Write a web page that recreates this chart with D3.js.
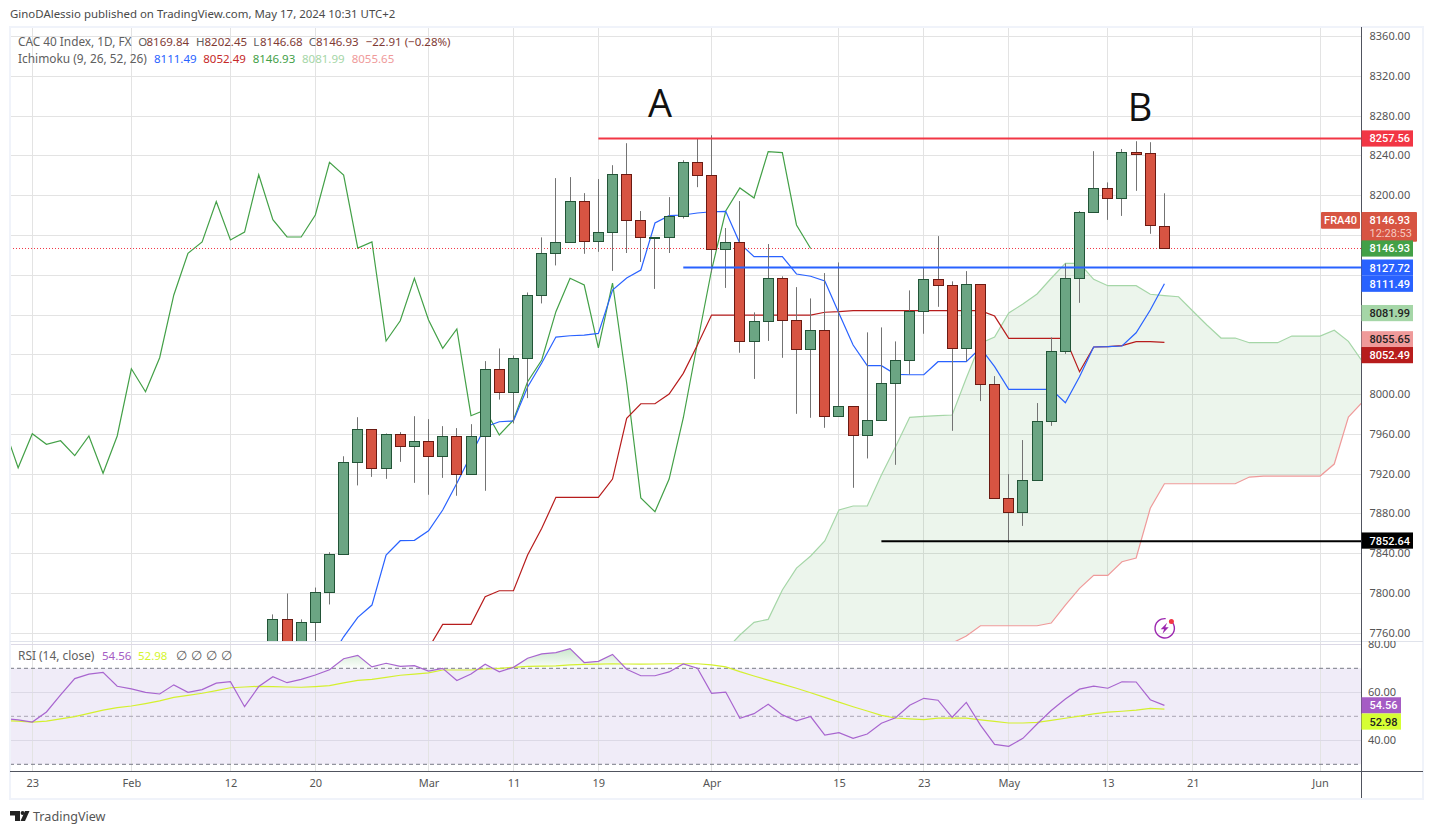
<!DOCTYPE html>
<html>
<head>
<meta charset="utf-8">
<script src="https://cdn.jsdelivr.net/npm/d3@7"></script>
<style>
  body { margin: 0; background: #fff; }
  text { font-family: "Noto Sans", sans-serif; }
</style>
</head>
<body>
<svg id="chart" width="1433" height="834"></svg>
<script>
// Candles, first one is bar 17 (bar 0 = 23 Jan)
const firstCandle = 17;
const opens = [7719,7773.9,7724,7771,7801.1,7839.3,7931.8,7965,7925.8,7959.9,7948.8,7952.9,7937.8,7957.9,7919.8,7957.9,8025.4,8002.2,8036.4,8099.7,8142,8153.1,8194.3,8154.1,8163.1,8221.4,8175.1,8157.9,8158.1,8179.2,8233.5,8220.5,8146.1,8153.1,8053.5,8073.6,8116.9,8074.6,8045.4,8064.6,7978,7988.2,7959,7974,8011.2,8034.4,8083.7,8115.9,8109.8,8046.4,8110.8,8010.2,7895.7,7881.7,7913.8,7973,8043.4,8116.9,8183.3,8207.3,8197.3,8243.8,8242.5,8169.84];
const highs = [7779,7800,7774,7806,7841.5,7938,7977.3,7965,7960.9,7962.3,7978.3,7975.3,7968.3,7966.3,7970.3,8033.7,8046.4,8039.4,8102.7,8158.1,8217.7,8218.7,8202.6,8216.7,8230.7,8252.8,8184.6,8158.5,8198.6,8235.7,8257.8,8260.8,8167.5,8194.6,8082.7,8151.4,8118.9,8108.1,8096.7,8122.2,8132.9,7988.2,8062.6,8067.6,8053.5,8104.8,8127.9,8159.4,8113.9,8124.2,8110.8,8018.6,7920,7954.3,7991.5,8057.5,8131.9,8184.6,8244.8,8213.4,8247,8254.8,8253.8,8202.45];
const lows = [7709,7714,7714,7744,7789,7839.3,7908.7,7917.3,7915.3,7932.4,7911.3,7899.3,7916.3,7898.3,7919.8,7903.3,7995,7971,7996.5,8091.7,8129.9,8153.1,8141.6,8143.6,8124.4,8142.4,8133.4,8106.3,8142.4,8177.1,8208.6,8122.9,8107.3,8042.1,8015.8,8054,8037,7980.7,7976.7,7966.6,7977.9,7906.3,7935.8,7973.9,7929.4,8020.3,8061.2,8088.3,7963.6,8033.4,7993.5,7895.7,7851,7868,7913.8,7968.6,8041,8092.3,8183.3,8175.7,8179.7,8204.9,8161.7,8146.68];
const closes = [7774,7724,7771,7801.1,7839.3,7931.8,7965,7925.8,7959.9,7948.8,7952.9,7937.8,7957.9,7919.8,7957.9,8025.4,8002.2,8036.4,8099.7,8142,8153.1,8194.3,8154.1,8163.1,8221.4,8175.1,8158.1,8158.1,8179.2,8233.5,8220.5,8146.1,8153.1,8053.5,8073.6,8116.9,8074.6,8045.4,8064.6,7978,7988.2,7959,7974,8011.2,8034.4,8083.7,8115.9,8109.8,8046.4,8110.8,8010.2,7895.7,7881.7,7913.8,7973,8043.4,8116.9,8183.3,8207.3,8197.3,8243.6,8242.3,8170.1,8146.93];

// Ichimoku lines
const laggingStart = -2;
const lagging = [7967.4,7926.5,7960.7,7950,7953.6,7938.6,7958.4,7920.9,7958.4,8026,8002.9,8037.1,8100.2,8142.1,8153.5,8194.2,8155.5,8163.5,8221.1,8175.9,8158.5,8158.5,8180.6,8233.6,8220.8,8147.4,8153.5,8053.9,8074.3,8117,8075,8046.6,8066,7978.8,7984.5,7959.4,7974.5,8013,8034.8,8083.4,8117,8110.2,8046.9,8112.2,8011.7,7896,7882.2,7915.1,7976.5,8051.9,8125.3,8184.6,8207.8,8197.7,8244.3,8243.3,8170.6,8146.93];
const conversionStart = 21;
const conversion = [7733,7756.5,7776,7788.4,7838.7,7853.1,7853.5,7863.1,7884,7910.8,7939.3,7967.4,7972.7,7973.5,8007.6,8031.8,8057.9,8059.2,8059.9,8061.6,8105.2,8117.3,8125.3,8172.6,8179.9,8180.6,8182.6,8183.9,8184.3,8152.1,8138.7,8138.7,8138.7,8121.3,8119,8114.2,8081.8,8049.9,8029.1,8029.1,8020.4,8020,8020,8033.1,8033.1,8033.1,8046.9,8028.1,8005.3,8005.3,8005.3,8005.3,7991.9,8018,8047.9,8048.2,8048.9,8062.2,8085.1,8111.49];
const baseStart = 28;
const baseLine = [7745,7769,7769,7769,7796.8,7802.8,7802.8,7838.7,7865.6,7896.7,7896.7,7896.7,7896.7,7915.1,7976.2,7990.8,7990.8,8000.6,8021.4,8049.9,8080,8080,8080,8080,8080,8080,8080,8080,8082.8,8083.4,8084.4,8084.4,8084.4,8084.4,8084.4,8084.4,8084.4,8084.4,8084.4,8084.4,8079,8056.6,8056.6,8056.6,8056.6,8056.6,8023,8047.9,8048.2,8049.2,8053.2,8053.2,8052.49];

// Cloud, both spans start at bar 49
const cloudStart = 49;
const spanA = [7743.2,7758.3,7771,7774,7803.5,7825.6,7837.7,7852.8,7884,7888,7888,7919.1,7947.6,7977.2,7978.2,7978.8,7979.5,8016.7,8051.6,8057.9,8082.1,8091.1,8101.2,8117,8132,8132,8115.9,8109.5,8109.5,8109.5,8100.9,8099.5,8098.4,8084.1,8070,8056.9,8056.9,8052.2,8052.2,8052.2,8058.9,8058.9,8058.9,8064.7,8053.6,8033.1];
const spanB = [7700,7700,7705,7710,7710,7712,7715,7715,7720,7722,7725,7728,7730,7735,7740,7743,7750.2,7757.2,7767.6,7767.6,7767.6,7767.6,7767.6,7770.3,7788.4,7805.2,7818.3,7818.3,7832,7835.7,7885.7,7910.4,7910.4,7910.4,7910.4,7910.4,7910.4,7917.1,7918.1,7918.1,7918.1,7918.1,7918.1,7930.2,7977.5,7992.6];

// RSI pane
const rsiStart = -2;
const rsi = [49,48.5,47.6,51.8,58.9,65.7,67.6,68.3,62.5,61.4,60,59.3,63.1,60,61.1,63.8,64.4,54,62.4,66.5,64,65.4,67.2,69.4,74,75.4,70.6,72.1,70.8,71.1,68.8,70,64.9,67.6,71.7,68.5,70.4,74.2,76,76.5,78.2,72.4,72.9,75.8,69.6,66.9,66.9,68.5,71.8,70,59.6,60.1,49.2,51.1,55,50.6,48.1,49.9,42.2,43.2,40.8,42.6,47.1,49.4,54.6,57.5,56.7,49.6,55.8,46.3,38.3,37.5,40.8,46.8,52.4,57.2,61.3,62.6,61.7,64.4,64.3,56.9,54.56];
const rsiMa = [48.2,48,47.6,48,48.9,49.9,51.2,52.6,53.6,54.3,55.3,56.4,57.9,58.7,59.6,60.7,61.9,62.2,62.5,62.4,62.2,62.1,62.4,62.8,63.9,65,65.4,66.2,67.1,67.6,68.1,69.3,69.3,69.3,69.7,70,70.4,70.8,70.9,71,71.4,71.6,71.7,71.9,71.8,71.7,71.8,71.9,71.9,71.9,71.4,70.6,68.6,66.8,65.1,63.4,61.7,59.8,57.9,55.9,54,52.2,50.4,49.3,48.9,48.6,49.2,49.2,49.2,48.5,47.9,47.2,47.2,47.5,48.3,49.2,50.1,51,51.7,52.1,52.6,53.3,52.98];

// Axes
const xTickBars = [0,7,14,20,28,34,40,48,57,63,69,76,82,91];
const xTickLabels = ["23","Feb","12","20","Mar","11","19","Apr","15","23","May","13","21","Jun"];
const priceTicks = d3.range(7760, 8361, 40);
const hiddenPriceLabels = [8160,8120,8080,8040]; // sit behind the value tags
const rsiGridTicks = [80,60,40];

// Drawn lines: price level and the bar they start on
const levelPrices = [8257.56,8127.72,7852.64];
const levelStartBars = [40,46,60];
const lastClose = 8146.93;

const svg = d3.select("#chart");
const paneLeft = 10, paneRight = 1361, paneTop = 27, paneSplit = 641, paneBottom = 771;

const x = d3.scaleLinear().domain([0,91]).range([32.3,1320.1]);
const y = d3.scaleLinear().domain([7760,8360]).range([633.3,36.6]);
const yRsi = d3.scaleLinear().domain([30,80]).range([764.3,644.3]);

const defs = svg.append("defs");
defs.append("clipPath").attr("id","clipPrice").append("rect")
  .attr("x",paneLeft).attr("y",paneTop).attr("width",paneRight-paneLeft).attr("height",paneSplit-paneTop);
defs.append("clipPath").attr("id","clipRsi").append("rect")
  .attr("x",paneLeft).attr("y",paneSplit).attr("width",paneRight-paneLeft).attr("height",paneBottom-paneSplit);
defs.append("clipPath").attr("id","clipRsiAxis").append("rect")
  .attr("x",0).attr("y",paneSplit).attr("width",70).attr("height",paneBottom-paneSplit);
defs.append("clipPath").attr("id","clipOver").append("rect")
  .attr("x",paneLeft).attr("y",paneSplit).attr("width",paneRight-paneLeft).attr("height",yRsi(70)-paneSplit);
const overGrad = defs.append("linearGradient").attr("id","overGrad")
  .attr("gradientUnits","userSpaceOnUse").attr("x1",0).attr("x2",0).attr("y1",yRsi(80)).attr("y2",yRsi(70));
overGrad.append("stop").attr("offset",0).attr("stop-color","#4caf50").attr("stop-opacity",0.35);
overGrad.append("stop").attr("offset",1).attr("stop-color","#4caf50").attr("stop-opacity",0.02);

// header line above the frame
svg.append("text").attr("x",10).attr("y",17.5).attr("font-size",11.45).attr("fill","#4a4a4a")
  .text("GinoDAlessio published on TradingView.com, May 17, 2024 10:31 UTC+2");

// RSI band sits under the grid
svg.append("rect").attr("x",paneLeft).attr("width",paneRight-paneLeft)
  .attr("y",yRsi(70)).attr("height",yRsi(30)-yRsi(70)).attr("fill","#7e57c2").attr("opacity",0.115);

// grids
const grid = svg.append("g").attr("shape-rendering","crispEdges");
grid.append("g").attr("transform",`translate(0,${paneTop})`)
  .call(d3.axisBottom(x).tickValues(xTickBars).tickSize(paneBottom-paneTop).tickFormat("").offset(0))
  .call(g => g.select(".domain").remove())
  .selectAll("line").attr("stroke","#e3e3e3");
grid.append("g").attr("transform",`translate(${paneRight},0)`)
  .call(d3.axisLeft(y).tickValues(priceTicks).tickSize(paneRight-paneLeft).tickFormat("").offset(0))
  .call(g => g.select(".domain").remove())
  .selectAll("line").attr("stroke","#e3e3e3");
grid.append("g").attr("transform",`translate(${paneRight},0)`)
  .call(d3.axisLeft(yRsi).tickValues(rsiGridTicks).tickSize(paneRight-paneLeft).tickFormat("").offset(0))
  .call(g => g.select(".domain").remove())
  .selectAll("line").attr("stroke","#dcd9e6");

// price pane
const price = svg.append("g").attr("clip-path","url(#clipPrice)");

const cloudArea = d3.area()
  .x((d,i) => x(cloudStart+i))
  .y0((d,i) => y(spanB[i]))
  .y1(d => y(d));
price.append("path").datum(spanA).attr("d",cloudArea).attr("fill","#43a047").attr("opacity",0.1);

function seriesLine(values, start) {
  return d3.line().x((d,i) => x(start+i)).y(d => y(d))(values);
}
function drawLine(values, start, color) {
  price.append("path").attr("d",seriesLine(values,start))
    .attr("fill","none").attr("stroke",color).attr("stroke-width",1.2);
}
drawLine(spanA,cloudStart,"#a5d6a7");
drawLine(spanB,cloudStart,"#ef9a9a");
drawLine(lagging,laggingStart,"#43a047");
drawLine(baseLine,baseStart,"#b71c1c");
drawLine(conversion,conversionStart,"#2962ff");

// last close, dotted
price.append("line").attr("x1",paneLeft).attr("x2",paneRight)
  .attr("y1",y(lastClose)).attr("y2",y(lastClose))
  .attr("stroke","#f23645").attr("stroke-dasharray","1,2");

// candles
const snap = v => Math.floor(v)+0.5;
const candles = price.append("g").selectAll("g").data(opens).join("g");
candles.append("line")
  .attr("x1",(d,i) => snap(x(firstCandle+i))).attr("x2",(d,i) => snap(x(firstCandle+i)))
  .attr("y1",(d,i) => y(highs[i])).attr("y2",(d,i) => y(lows[i]))
  .attr("stroke","#737373");
candles.append("rect")
  .attr("x",(d,i) => snap(x(firstCandle+i))-5).attr("width",10)
  .attr("y",(d,i) => Math.round(y(Math.max(d,closes[i])))+0.5)
  .attr("height",(d,i) => Math.max(1,Math.round(y(Math.min(d,closes[i])))-Math.round(y(Math.max(d,closes[i])))))
  .attr("fill",(d,i) => closes[i]>=d ? "#6ba583" : "#d75442")
  .attr("stroke",(d,i) => closes[i]>=d ? "#225437" : "#6b1a12");

// hand drawn levels
const levelColors = ["#f23645","#2962ff","#000000"];
price.selectAll(".level").data(levelPrices).join("line").attr("class","level")
  .attr("x1",(d,i) => x(levelStartBars[i])).attr("x2",paneRight)
  .attr("y1",d => y(d)).attr("y2",d => y(d))
  .attr("stroke",(d,i) => levelColors[i]).attr("stroke-width",2);

// A / B marks
svg.append("text").attr("x",660).attr("y",117).attr("text-anchor","middle")
  .style("font-family","Open Sans").attr("font-size",38).attr("fill","#111").text("A");
svg.append("text").attr("x",1140).attr("y",121).attr("text-anchor","middle")
  .style("font-family","Open Sans").attr("font-size",38).attr("fill","#111").text("B");

// RSI pane
const rsiPane = svg.append("g").attr("clip-path","url(#clipRsi)");
const rsiX = (d,i) => x(rsiStart+i);
rsiPane.append("path").datum(rsi)
  .attr("d",d3.area().x(rsiX).y0(yRsi(70)).y1(d => yRsi(d)))
  .attr("fill","url(#overGrad)").attr("clip-path","url(#clipOver)");
[70,30,50].forEach(v => {
  rsiPane.append("line").attr("x1",paneLeft).attr("x2",paneRight)
    .attr("y1",yRsi(v)).attr("y2",yRsi(v))
    .attr("stroke",v===50 ? "#a9a5b3" : "#787b86").attr("stroke-dasharray","4,3");
});
rsiPane.append("path").datum(rsiMa)
  .attr("d",d3.line().x(rsiX).y(d => yRsi(d)))
  .attr("fill","none").attr("stroke","#d4f02e").attr("stroke-width",1.2);
rsiPane.append("path").datum(rsi)
  .attr("d",d3.line().x(rsiX).y(d => yRsi(d)))
  .attr("fill","none").attr("stroke","#a865cf").attr("stroke-width",1.2);

// frame and axis lines
svg.append("rect").attr("x",10).attr("y",27).attr("width",1413).attr("height",772)
  .attr("fill","none").attr("stroke","#f0f3fa").attr("stroke-width",2);
const rules = svg.append("g").attr("shape-rendering","crispEdges");
rules.append("line").attr("x1",paneLeft).attr("x2",1423).attr("y1",paneSplit).attr("y2",paneSplit).attr("stroke","#e0e3eb");
rules.append("line").attr("x1",paneLeft).attr("x2",1423).attr("y1",paneBottom).attr("y2",paneBottom).attr("stroke","#50535e");
rules.append("line").attr("x1",paneRight).attr("x2",paneRight).attr("y1",paneTop).attr("y2",798).attr("stroke","#50535e");

// axis labels
const styleTicks = g => g.call(s => s.select(".domain").remove())
  .selectAll("text").attr("fill","#555").attr("font-size",11);
svg.append("g").attr("transform",`translate(${paneRight},-0.5)`)
  .call(d3.axisRight(y).tickValues(priceTicks.filter(t => !hiddenPriceLabels.includes(t))).tickSize(0).tickPadding(8.5).tickFormat(d3.format(".2f")))
  .call(styleTicks);
svg.append("g").attr("transform",`translate(${paneRight},0)`).attr("clip-path","url(#clipRsiAxis)")
  .call(d3.axisRight(yRsi).tickValues(rsiGridTicks).tickSize(0).tickPadding(7).tickFormat(d3.format(".2f")))
  .call(styleTicks);
svg.append("g").attr("transform",`translate(0,${paneBottom})`)
  .call(d3.axisBottom(x).tickValues(xTickBars).tickSize(0).tickPadding(8).tickFormat((d,i) => xTickLabels[i]))
  .call(styleTicks);

// value tags on the right axis, Roboto keeps the stacked rows from touching
function tag(scale, value, label, bg, fg, w, shift) {
  const cy = scale(value)+shift;
  svg.append("rect").attr("x",paneRight+0.5).attr("y",cy-8.1).attr("width",w).attr("height",16.2).attr("fill",bg);
  svg.append("text").attr("x",paneRight+8.5).attr("y",cy+4).style("font-family","Roboto").attr("font-size",11)
    .attr("font-weight",500).attr("fill",fg).text(label);
}
// red close tag with countdown
const closeTagY = y(lastClose)-28.5;
svg.append("rect").attr("x",paneRight+0.5).attr("y",closeTagY-8).attr("width",55.5).attr("height",29.7).attr("rx",1).attr("fill","#d75442");
svg.append("text").attr("x",paneRight+8.5).attr("y",closeTagY+4).style("font-family","Roboto").attr("font-size",11).attr("font-weight",500).attr("fill","#fff").text("8146.93");
svg.append("text").attr("x",paneRight+8.5).attr("y",closeTagY+17.2).style("font-family","Roboto").attr("font-size",11).attr("fill","#f6c9c1").text("12:28:53");
svg.append("rect").attr("x",1321).attr("y",closeTagY-8).attr("width",39).attr("height",16.7).attr("rx",1).attr("fill","#d75442");
svg.append("text").attr("x",1340.5).attr("y",closeTagY+4).attr("text-anchor","middle").style("font-family","Roboto").attr("font-size",11).attr("font-weight",500).attr("fill","#fff").text("FRA40");

tag(y,8257.56,"8257.56","#f23645","#fff",51.5,0);
tag(y,8146.93,"8146.93","#43a047","#fff",51.5,0);
tag(y,8127.72,"8127.72","#2962ff","#fff",51.5,0);
tag(y,8111.49,"8111.49","#2962ff","#fff",51.5,0);
tag(y,8081.99,"8081.99","#a5d6a7","#222",51.5,0);
tag(y,8055.65,"8055.65","#ef9a9a","#222",51.5,0);
tag(y,8052.49,"8052.49","#b71c1c","#fff",51.5,12.7);
tag(y,7852.64,"7852.64","#000","#fff",51.5,-0.6);
tag(yRsi,54.56,"54.56","#a55cc4","#fff",39.5,0);
tag(yRsi,52.98,"52.98","#d6ff33","#222",39.5,12.4);

// legend rows
function legend(yPos, parts) {
  parts.forEach(([xPos,str,color,size]) => {
    svg.append("text").attr("x",xPos).attr("y",yPos).attr("font-size",size || 11.5).attr("fill",color).text(str);
  });
}
const grey = "#606060", brown = "#7f3a34";
legend(46,[[18,"CAC 40 Index, 1D, FX",grey,11.8],[138.3,"O",grey],[146.5,"8169.84",brown],[196,"H",grey],[204.5,"8202.45",brown],
  [253.3,"L",grey],[260,"8146.68",brown],[308.7,"C",grey],[316,"8146.93",brown],[365.7,"−22.91 (−0.28%)",brown]]);
legend(63,[[18,"Ichimoku (9, 26, 52, 26)",grey,11.9],[154,"8111.49","#2962ff"],[203.3,"8052.49","#c62828"],[252.7,"8146.93","#43a047"],
  [302,"8081.99","#a5d6a7"],[351.7,"8055.65","#ef9a9a"]]);
legend(660,[[18,"RSI (14, close)",grey,11.9],[102,"54.56","#a55cc4"],[138,"52.98","#d4f52e"],[175.5,"∅",grey,12.5],[191,"∅",grey,12.5],[206,"∅",grey,12.5],[221,"∅",grey,12.5]]);

// lightning badge
const badge = svg.append("g").attr("transform","translate(1164.7,628.3)");
badge.append("path").attr("d",d3.arc().innerRadius(9).outerRadius(10.4).startAngle(0.95).endAngle(2*Math.PI+0.1)()).attr("fill","#9c27b0");
badge.append("path").attr("d","M2.4,-5.5 L-4,1 L-0.6,1 L-2.2,5.5 L4,-1 L0.6,-1 Z").attr("fill","#9c27b0");
badge.append("circle").attr("cx",6.7).attr("cy",-6.7).attr("r",2.5).attr("fill","#f23645");

// TradingView mark
const logo = svg.append("g").attr("fill","#222");
logo.append("path").attr("d","M10,811 H20 V821 H15 V815.5 H10 Z");
logo.append("circle").attr("cx",22.6).attr("cy",813).attr("r",2);
logo.append("path").attr("d","M20.5,821 L25,811 H29.5 L25,821 Z");
svg.append("text").attr("x",33).attr("y",820.5).attr("font-size",12.6).attr("fill","#555").text("TradingView");
</script>
</body>
</html>
